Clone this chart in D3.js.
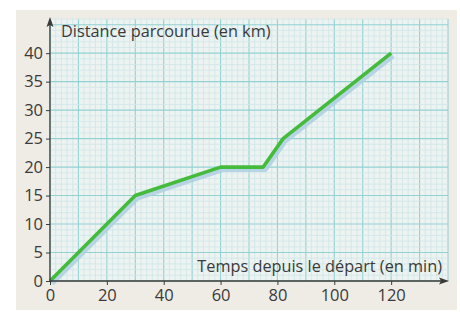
<!DOCTYPE html>
<html>
<head>
<meta charset="utf-8">
<script src="https://cdn.jsdelivr.net/npm/d3@7"></script>
<style>
  body { margin: 0; background: #fff; }
  svg { display: block; font-family: "Open Sans", sans-serif; }
</style>
</head>
<body>
<svg id="chart" width="460" height="316"></svg>
<script>
// Data
const times = [0, 30, 60, 75, 82, 120];
const distances = [0, 15, 20, 20, 25, 40];
const xTicks = [0, 20, 40, 60, 80, 100, 120];
const yTicks = [0, 5, 10, 15, 20, 25, 30, 35, 40];
const yLabel = 'Distance parcourue (en km)';
const xLabel = 'Temps depuis le départ (en min)';

const svg = d3.select('#chart');

// paper
svg.append('rect')
  .attr('x', 16).attr('y', 10)
  .attr('width', 441).attr('height', 300)
  .attr('fill', '#efece6');

const x = d3.scaleLinear().domain([0, 140]).range([50, 448]);
const y = d3.scaleLinear().domain([0, 46]).range([281, 19]);

// grid paper
svg.append('rect')
  .attr('x', x(0)).attr('y', y(46))
  .attr('width', x(140) - x(0)).attr('height', y(0) - y(46))
  .attr('fill', '#edf3f1');

const grid = svg.append('g');
const minorX = d3.range(0, 141, 2);
const minorY = d3.range(0, 47, 1);

grid.selectAll('.vx')
  .data(minorX)
  .join('line')
  .attr('x1', d => x(d)).attr('x2', d => x(d))
  .attr('y1', y(46)).attr('y2', y(0))
  .attr('stroke', d => d % 10 === 0 ? '#93d2d3' : '#cfe6e8')
  .attr('stroke-width', d => d % 10 === 0 ? 1.1 : 0.8);

grid.selectAll('.hy')
  .data(minorY)
  .join('line')
  .attr('x1', x(0)).attr('x2', x(140))
  .attr('y1', d => y(d)).attr('y2', d => y(d))
  .attr('stroke', d => d % 5 === 0 ? '#93d2d3' : '#cfe6e8')
  .attr('stroke-width', d => d % 5 === 0 ? 1.1 : 0.8);

// curve with shadow
const line = d3.line()
  .x((d, i) => x(times[i]))
  .y(d => y(d));

svg.append('path')
  .datum(distances)
  .attr('d', line)
  .attr('transform', 'translate(2,2.5)')
  .attr('fill', 'none')
  .attr('stroke', '#aecfe2')
  .attr('stroke-width', 5)
  .attr('stroke-linejoin', 'round')
  .attr('opacity', 0.85);

svg.append('path')
  .datum(distances)
  .attr('d', line)
  .attr('fill', 'none')
  .attr('stroke', '#45bb3c')
  .attr('stroke-width', 3.6)
  .attr('stroke-linejoin', 'round');

// axes
const axisColor = '#3a3a3a';
const xAxis = d3.axisBottom(x).tickValues(xTicks).tickSize(4).tickPadding(4);
const yAxis = d3.axisLeft(y).tickValues(yTicks).tickSize(4).tickPadding(3);

const gx = svg.append('g').attr('transform', `translate(0,${y(0)})`).call(xAxis);
const gy = svg.append('g').attr('transform', `translate(${x(0)},0)`).call(yAxis);

[gx, gy].forEach(g => {
  g.select('.domain').remove();
  g.selectAll('.tick line').attr('stroke', axisColor).attr('stroke-width', 1);
  g.selectAll('.tick text')
    .attr('fill', '#3a3a3a')
    .attr('font-size', 16.5)
    .attr('font-family', '"Open Sans", sans-serif');
});

svg.append('line')
  .attr('x1', x(0)).attr('x2', 442)
  .attr('y1', y(0)).attr('y2', y(0))
  .attr('stroke', axisColor).attr('stroke-width', 1.3);
svg.append('path')
  .attr('d', `M449,${y(0)} L439,${y(0) - 3.5} L441,${y(0)} L439,${y(0) + 3.5} Z`)
  .attr('fill', axisColor);

svg.append('line')
  .attr('x1', x(0)).attr('x2', x(0))
  .attr('y1', y(0)).attr('y2', 24)
  .attr('stroke', axisColor).attr('stroke-width', 1.3);
svg.append('path')
  .attr('d', `M${x(0)},17 L${x(0) - 3.5},27 L${x(0)},25 L${x(0) + 3.5},27 Z`)
  .attr('fill', axisColor);

// axis titles
svg.append('text')
  .attr('x', 61).attr('y', 37)
  .attr('font-size', 16.3)
  .attr('fill', '#3a3a3a')
  .text(yLabel);

svg.append('text')
  .attr('x', 442).attr('y', 272)
  .attr('text-anchor', 'end')
  .attr('font-size', 16.3)
  .attr('fill', '#3a3a3a')
  .text(xLabel);
</script>
</body>
</html>
